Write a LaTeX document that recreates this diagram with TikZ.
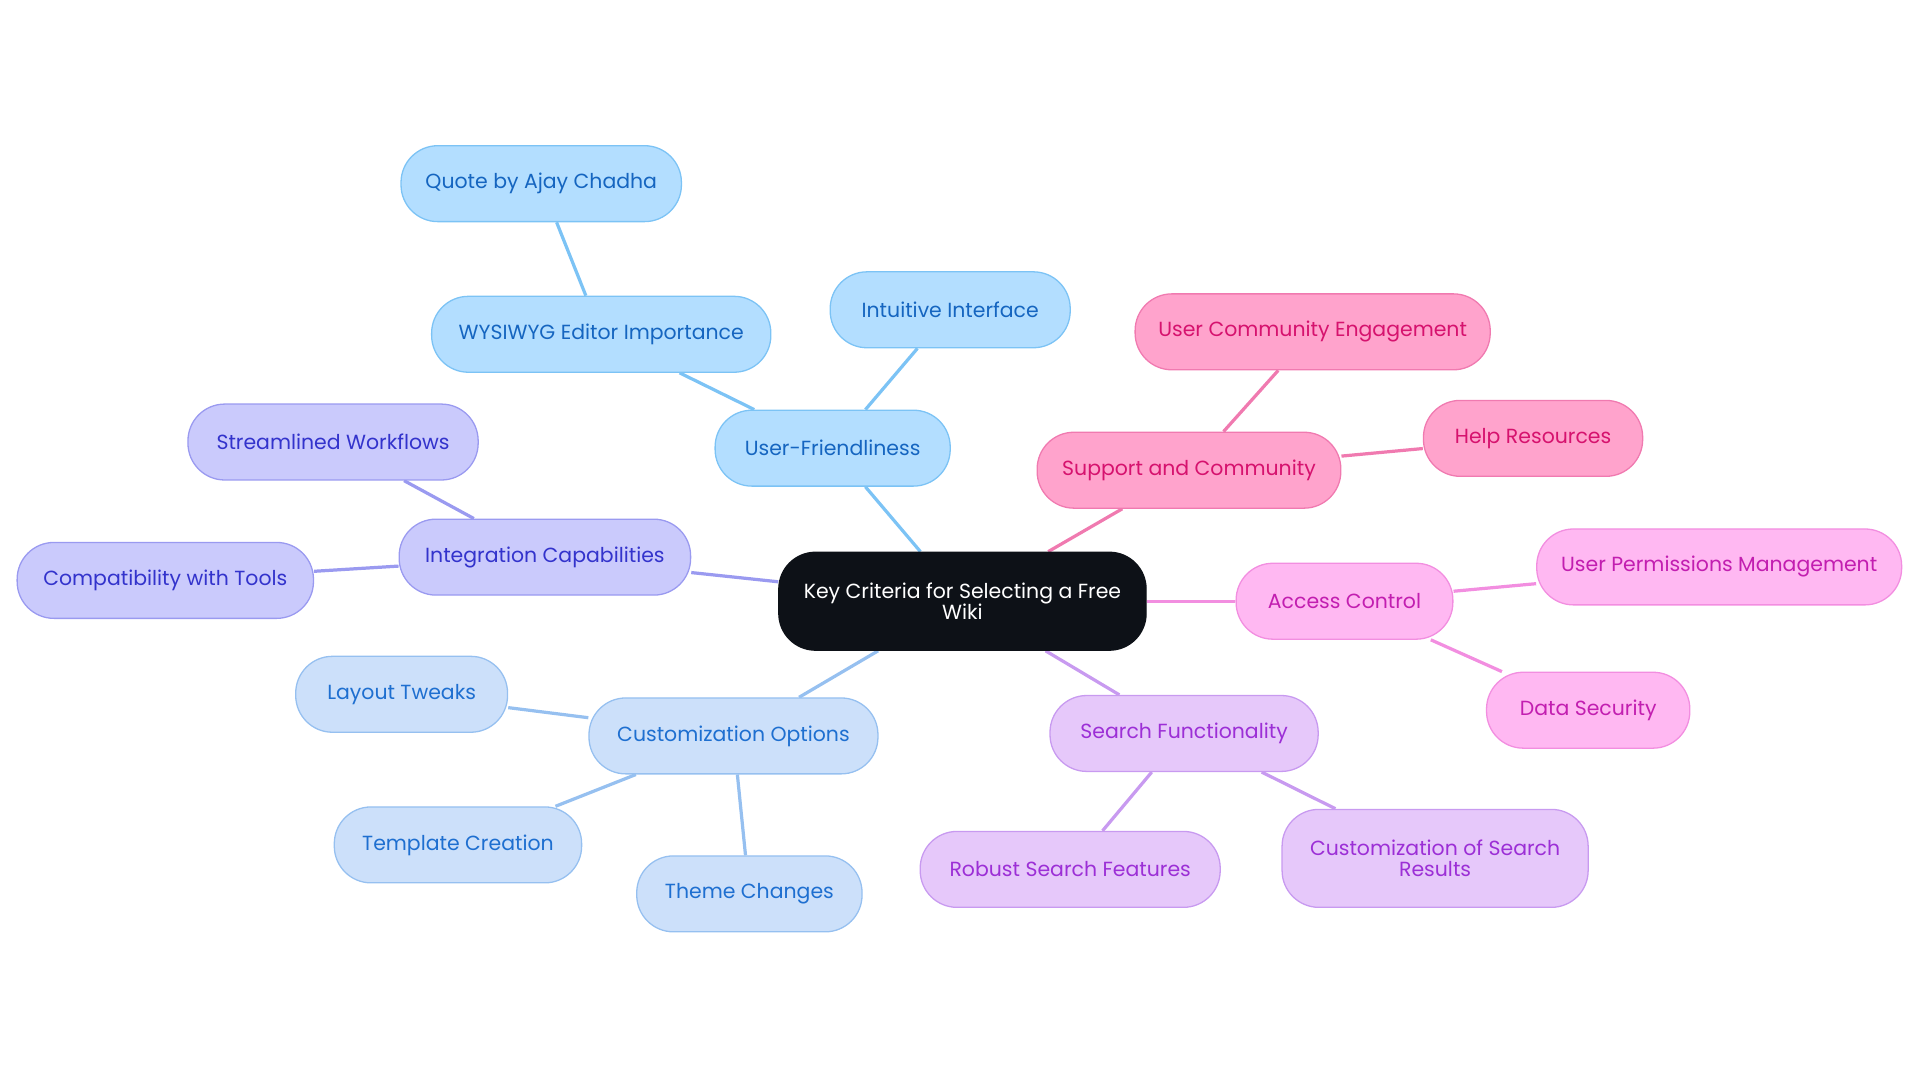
\documentclass[tikz,border=0pt]{standalone}
\usepackage{fontspec}
\setmainfont{Poppins}
\usetikzlibrary{backgrounds}
\definecolor{rootfill}{HTML}{0D1117}
\definecolor{ufFill}{HTML}{B3DEFF}\definecolor{ufLine}{HTML}{7CC3F5}\definecolor{ufText}{HTML}{1565C0}
\definecolor{icFill}{HTML}{CACAFC}\definecolor{icLine}{HTML}{9A9AF0}\definecolor{icText}{HTML}{3333CC}
\definecolor{coFill}{HTML}{CCE0FA}\definecolor{coLine}{HTML}{96C0F0}\definecolor{coText}{HTML}{1E6FD0}
\definecolor{scFill}{HTML}{FFA3CC}\definecolor{scLine}{HTML}{F07AB0}\definecolor{scText}{HTML}{D6126E}
\definecolor{acFill}{HTML}{FFB8F2}\definecolor{acLine}{HTML}{F28EE0}\definecolor{acText}{HTML}{C21EB0}
\definecolor{sfFill}{HTML}{E6C8FA}\definecolor{sfLine}{HTML}{C89AF0}\definecolor{sfText}{HTML}{9C2FD6}
\tikzset{
	box/.style={draw, rounded corners=0.6cm, minimum height=1.24cm, align=center, font=\fontsize{9.5}{10}\selectfont, line width=0.6pt},
	uf/.style={box, fill=ufFill, draw=ufLine, text=ufText},
	ic/.style={box, fill=icFill, draw=icLine, text=icText},
	co/.style={box, fill=coFill, draw=coLine, text=coText},
	sc/.style={box, fill=scFill, draw=scLine, text=scText},
	ac/.style={box, fill=acFill, draw=acLine, text=acText},
	sf/.style={box, fill=sfFill, draw=sfLine, text=sfText},
	link/.style={line width=1.5pt},
}
\begin{document}
\begin{tikzpicture}[x=0.02cm, y=-0.02cm]
	\useasboundingbox (0,0) rectangle (1568,884);
	\node[box, fill=rootfill, draw=rootfill, text=white, minimum width=6cm, minimum height=1.6cm] (root) at (786,491) {Key Criteria for Selecting a Free\\Wiki};
	\foreach \n/\s/\x/\y/\w/\t in {
		uf/uf/680/366/192/User-Friendliness,
		wys/uf/491/273/277/WYSIWYG Editor Importance,
		quote/uf/442/150/229/Quote by Ajay Chadha,
		intu/uf/776/253/196/Intuitive Interface,
		ic/ic/445/455/238/Integration Capabilities,
		stream/ic/272/361/237/Streamlined Workflows,
		compat/ic/135/474/242/Compatibility with Tools,
		co/co/599/601/236/Customization Options,
		layout/co/328/567/173/Layout Tweaks,
		templ/co/374/690/202/Template Creation,
		theme/co/612/730/184/Theme Changes,
		sc/sc/971/384/248/Support and Community,
		comm/sc/1072/271/290/User Community Engagement,
		help/sc/1252/358/179/Help Resources,
		ac/ac/1098/491/177/Access Control,
		perm/ac/1404/463/298/User Permissions Management,
		secu/ac/1297/580/166/Data Security,
		sf/sf/967/599/219/Search Functionality,
		robust/sf/874/710/245/Robust Search Features}{
		\node[\s, minimum width=\w*0.02cm] (\n) at (\x,\y) {\t};
	}
	\node[sf, minimum width=5cm, minimum height=1.6cm] (custres) at (1172,701) {Customization of Search\\Results};
	\begin{scope}[on background layer]
		\foreach \a\b\c in {root/uf/ufLine, uf/wys/ufLine, wys/quote/ufLine, uf/intu/ufLine,
			root/ic/icLine, ic/stream/icLine, ic/compat/icLine,
			root/co/coLine, co/layout/coLine, co/templ/coLine, co/theme/coLine,
			root/sc/scLine, sc/comm/scLine, sc/help/scLine,
			root/ac/acLine, ac/perm/acLine, ac/secu/acLine,
			root/sf/sfLine, sf/robust/sfLine, sf/custres/sfLine}{
			\draw[link, \c] (\a) -- (\b);
		}
	\end{scope}
\end{tikzpicture}
\end{document}
